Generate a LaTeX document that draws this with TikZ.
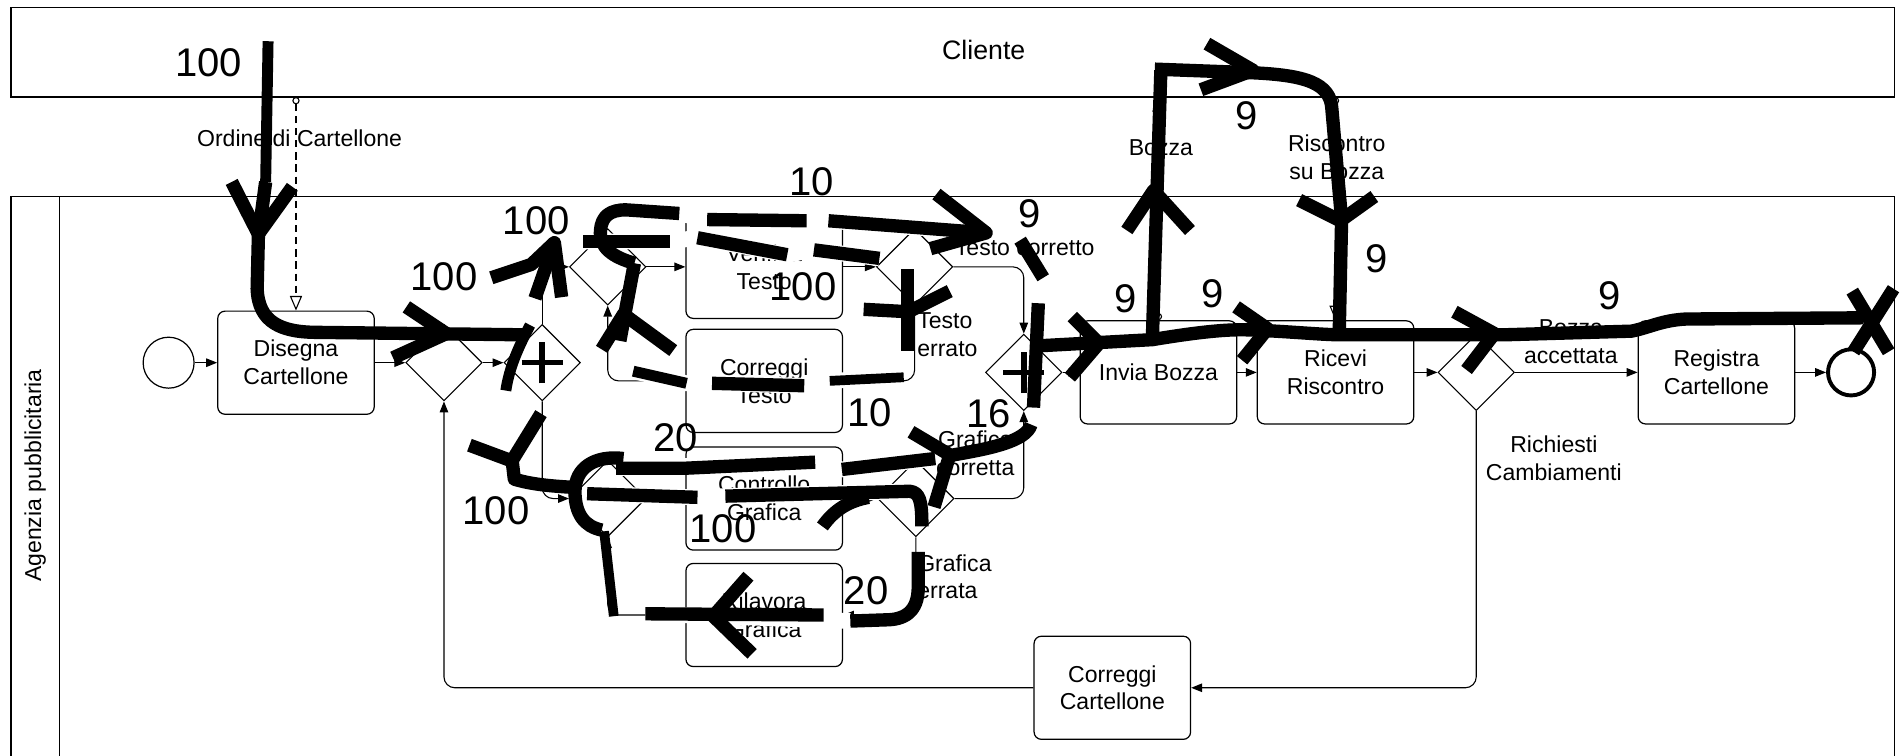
\documentclass[tikz,border=0pt]{standalone}
\usepackage{fontspec}
\setmainfont{Liberation Sans}
\usetikzlibrary{shapes.geometric,arrows.meta}

\newcommand{\lblfont}{\fontsize{19}{23}\selectfont}
\newcommand{\numfont}{\fontsize{33}{36}\selectfont}
\newcommand{\poolfont}{\fontsize{22}{26}\selectfont}

\begin{document}
\begin{tikzpicture}[x=1pt,y=-1pt,
  lanebox/.style={draw,line width=1pt},
  taskbox/.style={draw,line width=1pt,rounded corners=6pt,minimum width=129pt,minimum height=85pt,align=center,font=\lblfont,inner sep=2pt},
  gwbox/.style={draw,line width=0.9pt,diamond,aspect=1,minimum size=63pt,inner sep=0pt},
  evstart/.style={draw,line width=1pt,circle,minimum size=42pt,inner sep=0pt},
  evend/.style={draw,line width=3.2pt,circle,minimum size=38pt,inner sep=0pt},
  seqflow/.style={draw,line width=0.9pt,-{Triangle[length=9pt,width=7pt]}},
  msgflow/.style={draw,line width=0.9pt,dash pattern=on 6pt off 4pt,{Circle[open,length=6pt,width=6pt]}-{Triangle[open,length=12pt,width=10pt]}},
  plusmark/.style={line width=4.5pt},
  lbl/.style={font=\lblfont,inner sep=0pt,align=center},
  numlbl/.style={font=\numfont,inner sep=0pt},
  hand/.style={line width=11pt,line join=round},
  halo/.style={white,line width=13pt,line join=round},
]
\useasboundingbox (0,0) rectangle (1568,623);

% ---------- pools ----------
\draw[lanebox] (9,6) rectangle (1562,80);
\node[font=\poolfont] (cliente) at (811,41) {Cliente};
\draw[lanebox] (9,628) -- (9,162) -- (1562,162) -- (1562,628);
\draw[lanebox] (49,162) -- (49,628);
\node[lbl,rotate=90] (agenzia) at (29,392) {Agenzia pubblicitaria};

% ---------- flow objects ----------
\node[evstart] (start) at (139,299) {};
\node[taskbox] (dis) at (244,299) {Disegna\\Cartellone};
\node[gwbox] (g1) at (366,299) {};
\node[gwbox] (p1) at (447,299) {};
\node[gwbox] (gt) at (501,220) {};
\node[gwbox] (gg) at (501,411) {};
\node[taskbox] (t1) at (630,220) {Verifica\\Testo};
\node[taskbox] (ct) at (630,314) {Correggi\\Testo};
\node[taskbox] (cg) at (630,411) {Controllo\\Grafica};
\node[taskbox] (rg) at (630,507) {Rilavora\\Grafica};
\node[gwbox] (gtc) at (754,220) {};
\node[gwbox] (ggc) at (755,411) {};
\node[gwbox] (p2) at (844,307) {};
\node[taskbox] (ib) at (955,307) {Invia Bozza};
\node[taskbox] (rr) at (1101,307) {Ricevi\\Riscontro};
\node[gwbox] (gr) at (1217,307) {};
\node[taskbox] (reg) at (1415,307) {Registra\\Cartellone};
\node[evend] (end) at (1526,307) {};
\node[taskbox] (cc) at (917,567) {Correggi\\Cartellone};

% parallel gateway markers
\foreach \p in {p1,p2} {
  \draw[plusmark] ([xshift=-17pt]\p.center) -- ([xshift=17pt]\p.center);
  \draw[plusmark] ([yshift=-17pt]\p.center) -- ([yshift=17pt]\p.center);
}

% ---------- sequence flows ----------
\draw[seqflow] (start) -- (dis);
\draw[seqflow] (dis) -- (g1);
\draw[seqflow] (g1) -- (p1);
\draw[seqflow] (p1.north) |- (gt.west);
\draw[seqflow] (gt) -- (t1);
\draw[seqflow] (t1) -- (gtc);
\draw[seqflow,rounded corners=9pt] (gtc.east) -| (p2.north);
\draw[seqflow,rounded corners=9pt] (gtc.south) |- (ct.east);
\draw[seqflow,rounded corners=9pt] (ct.west) -| (gt.south);
\draw[seqflow,rounded corners=9pt] (p1.south) |- (gg.west);
\draw[seqflow] (gg) -- (cg);
\draw[seqflow] (cg) -- (ggc);
\draw[seqflow,rounded corners=9pt] (ggc.east) -| (p2.south);
\draw[seqflow,rounded corners=9pt] (ggc.south) |- (rg.east);
\draw[seqflow,rounded corners=9pt] (rg.west) -| (gg.south);
\draw[seqflow] (p2) -- (ib);
\draw[seqflow] (ib) -- (rr);
\draw[seqflow] (rr) -- (gr);
\draw[seqflow] (gr) -- (reg);
\draw[seqflow] (reg) -- (end);
\draw[seqflow,rounded corners=9pt] (gr.south) |- (cc.east);
\draw[seqflow,rounded corners=9pt] (cc.west) -| (g1.south);

% ---------- message flows ----------
\coordinate (ordSrc) at (244,80);
\draw[msgflow] (ordSrc) -- (dis.north);
\coordinate (bozTgt) at (955,80);
\draw[msgflow] (ib.north) -- (bozTgt);
\coordinate (risSrc) at (1101,80);
\draw[msgflow] (risSrc) -- (rr.north);

% ---------- labels ----------
\node[lbl] (lOrd) at (247,114) {Ordine di Cartellone};
\node[lbl] (lBoz) at (957,122) {Bozza};
\node[lbl] (lRis) at (1102,129.5) {Riscontro\\su Bozza};
\node[lbl,anchor=west] (lTc) at (787,204) {Testo corretto};
\node[lbl,align=left,anchor=west] (lTe) at (756,276) {Testo\\errato};
\node[lbl] (lGc) at (804,373.5) {Grafica\\corretta};
\node[lbl,align=left,anchor=west] (lGe) at (756,475.5) {Grafica\\errata};
\node[lbl] (lBa) at (1295,282) {Bozza\\accettata};
\node[lbl] (lRc) at (1281,378) {Richiesti\\Cambiamenti};

% ---------- token trail: white gaps under broken strokes ----------
\draw[halo] (506,175) -- (560,176) -- (583,181) -- (665,182) -- (683,182) -- (813,192);
\draw[halo] (481,199) -- (552,199) -- (575,196) -- (649,210) -- (671,206) -- (725,213);
\draw[halo] (745,311) -- (684,314) -- (663,318) -- (587,316) -- (566,316) -- (522,306);
\draw[halo] (508,386) -- (672,381) -- (694,387) -- (771,378);
\draw[halo] (484,407) -- (575,410) -- (598,409) -- (750,405);
\draw[halo] (701,512) -- (532,506);

% ---------- token trail: order and first split ----------
\draw[hand,line width=9pt] (221,34) -- (219,150);
\draw[hand] (219,150) -- (213,195) -- (212,238) .. controls (213,266) and (232,274) .. (262,274) -- (431,276);
\draw[hand] (191,150) -- (213,193) -- (241,154);
\draw[hand] (335,253) -- (368,275) -- (324,295);
\draw[hand,line width=9pt] (437,268) .. controls (428,285) and (420,302) .. (417,322);

% text branch
\draw[hand] (441,246) -- (457,200);
\draw[hand] (405,229) -- (438,218) -- (457,200) -- (463,245);
\draw[hand] (481,199) -- (552,199);
\draw[hand] (575,196) -- (649,210);
\draw[hand] (671,206) -- (725,213);
\draw[hand] (748,222) -- (748,289);
\draw[hand] (712,255) -- (749,257) -- (783,240);
\draw[hand,line width=8pt] (745,311) -- (684,314);
\draw[hand] (663,318) -- (587,316);
\draw[hand,line width=9pt] (566,316) -- (522,306);
\draw[hand] (511,281) -- (523,217);
\draw[hand] (496,288) -- (514,259) -- (555,289);
\draw[hand] (523,217) .. controls (505,212) and (494,204) .. (495,190) .. controls (496,178) and (503,173) .. (516,173) -- (560,176);
\draw[hand] (583,181) -- (665,182);
\draw[hand] (683,182) -- (813,192);
\draw[hand] (772,160) -- (813,192) -- (767,205);
\draw[hand] (841,198) -- (860,229);
\draw[hand] (856,250) -- (852,336);

% graphics branch
\draw[hand] (387,367) -- (422,380) -- (446,341);
\draw[hand] (422,378) -- (424,395) .. controls (440,400) and (460,401) .. (476,402);
\draw[hand] (514,378) .. controls (490,375) and (474,386) .. (474,405) .. controls (474,424) and (482,434) .. (496,437);
\draw[hand,line width=8pt] (498,438) -- (506,508);
\draw[hand] (508,386) -- (565,386) -- (672,381);
\draw[hand] (694,387) -- (771,378);
\draw[hand] (751,356) -- (783,375) -- (770,418);
\draw[hand] (786,375) .. controls (815,370) and (846,364) .. (850,350);
\draw[hand] (484,407) -- (575,410);
\draw[hand] (598,409) -- (750,405) .. controls (758,406) and (760,412) .. (760,434);
\draw[hand] (678,434) .. controls (688,420) and (700,413) .. (716,410);
\draw[hand] (757,455) -- (757,484) .. controls (757,505) and (745,511) .. (730,511) -- (701,512);
\draw[hand] (532,506) -- (679,507);
\draw[hand] (617,475) -- (588,508) -- (620,539);

% draft and feedback
\draw[hand] (858,285) -- (950,280) .. controls (980,275) and (1010,271) .. (1030,272) .. controls (1060,273) and (1090,276) .. (1105,276) -- (1240,276) -- (1345,273) .. controls (1360,270) and (1370,264) .. (1390,263) -- (1536,262);
\draw[hand] (884,261) -- (906,283) -- (882,311);
\draw[hand] (950,279) -- (957,58);
\draw[hand] (929,190) -- (951,157) -- (981,190);
\draw[hand] (952,57) -- (1033,60) .. controls (1075,62) and (1097,68) .. (1098,90) -- (1106,181) -- (1104,276);
\draw[hand] (995,36) -- (1033,58) -- (990,74);
\draw[hand] (1071,165) -- (1105,182) -- (1133,162);
\draw[hand] (1019,253) -- (1045,271) -- (1024,297);
\draw[hand] (1199,257) -- (1232,275) -- (1209,305);
\draw[hand] (1527,240) -- (1557,290);
\draw[hand] (1561,238) -- (1528,290);

% ---------- token counts ----------
\node[numlbl] (n1) at (172,52) {100};
\node[numlbl] (n2) at (366,228) {100};
\node[numlbl] (n3) at (442,182) {100};
\node[numlbl] (n4) at (669,150) {10};
\node[numlbl] (n5) at (849,176) {9};
\node[numlbl] (n6) at (662,236) {100};
\node[numlbl] (n7) at (717,340) {10};
\node[numlbl] (n8) at (815,341) {16};
\node[numlbl] (n9) at (557,361) {20};
\node[numlbl] (n10) at (409,421) {100};
\node[numlbl] (n11) at (596,436) {100};
\node[numlbl] (n12) at (714,487) {20};
\node[numlbl] (n13) at (928,246) {9};
\node[numlbl] (n14) at (1000,242) {9};
\node[numlbl] (n15) at (1028,95) {9};
\node[numlbl] (n16) at (1135,213) {9};
\node[numlbl] (n17) at (1327,244) {9};
\end{tikzpicture}
\end{document}
